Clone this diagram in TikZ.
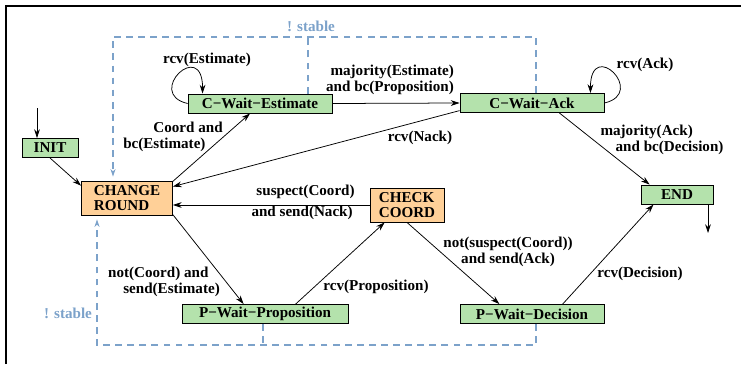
\documentclass[tikz,border=0pt]{standalone}
\usepackage{fontspec}
\setmainfont{Liberation Serif}
\usetikzlibrary{arrows.meta,calc}
\definecolor{boxgreen}{RGB}{180,226,172}
\definecolor{boxorange}{RGB}{255,208,152}
\definecolor{stableblue}{RGB}{124,162,202}

\begin{document}
\begin{tikzpicture}[x=0.662pt,y=-0.662pt,
            every node/.style={font={\fontsize{10}{10.5}\selectfont\bfseries}},
            statebox/.style={draw,line width=0.6pt,fill=boxgreen,inner sep=1pt,minimum height=12.6pt},
            roundbox/.style={draw,line width=0.6pt,fill=boxorange,inner sep=1pt,minimum height=22.5pt,align=left},
            trans/.style={-{Stealth[length=5.8pt,width=3.8pt]},line width=0.5pt},
            stable/.style={stableblue,dash pattern=on 4.5pt off 3.5pt,line width=0.7pt},
            stablelbl/.style={text=stableblue}]
            \useasboundingbox (0,0) rectangle (741,364);
            \draw[line width=0.9pt] (6,364) -- (6,6) -- (741,6);

            \node[statebox,minimum width=37.1pt] (init) at (50,148) {INIT};
            \node[roundbox,minimum width=60.2pt] (change) at (127,198) {CHANGE\\ROUND};
            \node[statebox,minimum width=95.3pt] (cwest) at (260,103.5) {C−Wait−Estimate};
            \node[statebox,minimum width=95.3pt] (cwack) at (532,103) {C−Wait−Ack};
            \node[roundbox,minimum width=49pt] (check) at (407,205) {CHECK\\COORD};
            \node[statebox,minimum width=47.7pt] (end) at (677,194.5) {END};
            \node[statebox,minimum width=109.9pt] (pwprop) at (265,314) {P−Wait−Proposition};
            \node[statebox,minimum width=95.3pt] (pwdec) at (532,314) {P−Wait−Decision};

            \coordinate (start) at (37,108);
            \coordinate (stop) at (708,233);
            \draw[trans] (start) -- (start |- init.north);
            \draw[trans] (end.south -| stop) -- (stop);

            \draw[trans] (init.south) -- (change.165);
            \draw[trans] (change.20) -- (cwest.225);
            \draw[trans] (cwest.east) -- (cwack.west);
            \draw[trans] (cwack.186) -- (change.14);
            \draw[trans] (cwack.-20) -- (end.160);
            \draw[trans] (check.west) -- (check.west -| change.east);
            \draw[trans] (change.-20) -- (pwprop.155);
            \draw[trans] (pwprop.18) -- (check.218);
            \draw[trans] (check.south) -- (pwdec.163);
            \draw[trans] (pwdec.18) -- (end.203);
            \draw[trans] (cwest.west) .. controls +(-43,-10) and +(0,-56) .. ($(cwest.north west)+(15,0)$);
            \draw[trans] (cwack.east) .. controls +(43,-10) and +(0,-56) .. ($(cwack.north east)+(-14,0)$);

            \coordinate (stabletop) at (308,37);
            \coordinate (stablebot) at (263,345);
            \draw[stable,-{Stealth[length=5pt,width=3.4pt]}] ($(cwack.north)+(4,0)$) |- (stabletop) -| ($(change.north)+(-14,-4)$);
            \draw[stable] ($(cwest.north)+(48,0)$) -- (stabletop);
            \draw[stable,-{Stealth[length=5pt,width=3.4pt]}] ($(pwdec.south)+(4,0)$) |- (stablebot) -| ($(change.south)+(-30,4)$);
            \draw[stable] ($(pwprop.south)+(-2,0)$) -- (stablebot);

            \node[stablelbl] (stabletoplbl) at (311,26) {! stable};
            \node[stablelbl] (stablebotlbl) at (68,313) {! stable};
            \node (rcvest) at (207,60) {rcv(Estimate)};
            \node[align=right] (majest) at (390,80) {majority(Estimate)\\and bc(Proposition)};
            \node (rcvack) at (645,65) {rcv(Ack)};
            \node[align=left] (coordbc) at (173,137) {\hspace*{20pt}Coord and\\bc(Estimate)};
            \node (rcvnack) at (420,138) {rcv(Nack)};
            \node[align=left] (majack) at (662,140) {majority(Ack)\\\hspace*{10pt}and bc(Decision)};
            \node[anchor=east] (suspect) at (360,192) {suspect(Coord)};
            \node[anchor=east] (sendnack) at (358,213) {and send(Nack)};
            \node[align=left] (notcoord) at (164,282) {not(Coord) and\\\hspace*{10pt}send(Estimate)};
            \node (rcvprop) at (376,287) {rcv(Proposition)};
            \node[align=center] (notsusp) at (508,252) {not(suspect(Coord))\\and send(Ack)};
            \node (rcvdec) at (640,274) {rcv(Decision)};
        \end{tikzpicture}
\end{document}
